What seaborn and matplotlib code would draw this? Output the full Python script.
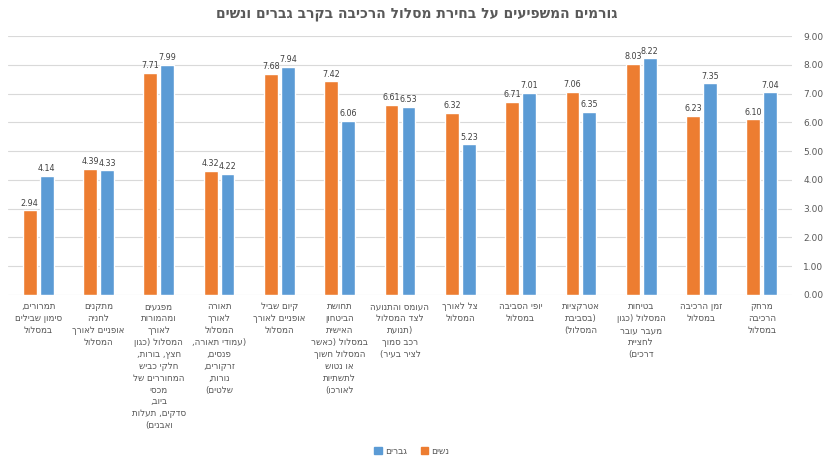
import matplotlib
matplotlib.use("Agg")
import matplotlib.pyplot as plt
import seaborn as sns
import pandas as pd
from matplotlib.patches import Patch

# Categories in reading (right-to-left) order
categories = [
    "מרחק\nהרכיבה\nבמסלול",
    "זמן הרכיבה\nבמסלול",
    "בטיחות\nהמסלול (כגון\nמעבר עובר\nלחציית\nדרכים)",
    "אטרקציות\n(בסביבת\nהמסלול)",
    "יופי הסביבה\nבמסלול",
    "צל לאורך\nהמסלול",
    "העומס והתנועה\nלצד המסלול\n(תנועת\nרכב סמוך\nלציר בעיר)",
    "תחושת\nהביטחון\nהאישית\nבמסלול (כאשר\nהמסלול חשוך\nאו נטוש\nלתשתיות\nלאורכו)",
    "קיום שביל\nאופניים לאורך\nהמסלול",
    "תאורה\nלאורך\nהמסלול\n(עמודי תאורה,\nפנסים,\nזרקורים,\nנורות,\nשלטים)",
    "מפגעים\nומהמורות\nלאורך\nהמסלול (כגון\nחצץ, בורות,\nחלקי כביש\nהמחוררים של\nמכסי\nביוב,\nסדקים, תעלות\nואבנים)",
    "מתקנים\nלחניה\nאופניים לאורך\nהמסלול",
    "תמרורים,\nסימון שבילים\nבמסלול",
]
women = [6.10, 6.23, 8.03, 7.06, 6.71, 6.32, 6.61, 7.42, 7.68, 4.32, 7.71, 4.39, 2.94]
men = [7.04, 7.35, 8.22, 6.35, 7.01, 5.23, 6.53, 6.06, 7.94, 4.22, 7.99, 4.33, 4.14]
women_name = "נשים"
men_name = "גברים"
title = "גורמים המשפיעים על בחירת מסלול הרכיבה בקרב גברים ונשים"
y_ticks = [0, 1, 2, 3, 4, 5, 6, 7, 8, 9]

ORANGE = "#ED7D31"
BLUE = "#5B9BD5"
TEXT = "#595959"


def rtl(text):
    """Lay out Hebrew lines for a left-to-right renderer."""
    mirror = str.maketrans("()", ")(")
    return "\n".join(line[::-1].translate(mirror) for line in text.split("\n"))


cat_disp = [rtl(c) for c in categories]
w_disp, m_disp = rtl(women_name), rtl(men_name)

df = pd.DataFrame({
    "category": cat_disp * 2,
    "series": [w_disp] * len(cat_disp) + [m_disp] * len(cat_disp),
    "value": women + men,
})

sns.set_theme(style="white")
plt.rcParams["font.family"] = ["DejaVu Sans"]

fig = plt.figure(figsize=(8.25, 4.61), dpi=100)
ax = fig.add_axes([8 / 825, 166 / 461, 784 / 825, (425 - 166) / 461])

sns.barplot(
    data=df, x="category", y="value", hue="series",
    order=cat_disp, hue_order=[m_disp, w_disp],
    palette={m_disp: BLUE, w_disp: ORANGE}, saturation=1,
    width=0.56, gap=0.18, ax=ax, legend=False,
)
ax.invert_xaxis()

for cont in ax.containers:
    ax.bar_label(cont, fmt="%.2f", padding=2, fontsize=5.8, color="#404040")

ax.set_ylim(0, 9)
ax.set_yticks(y_ticks)
ax.set_yticklabels([f"{v:.2f}" for v in y_ticks])
ax.yaxis.tick_right()
ax.tick_params(axis="y", length=0, pad=8, labelsize=6.5, labelcolor=TEXT)
ax.tick_params(axis="x", length=0, pad=5, labelsize=6.3, labelcolor=TEXT)
for lbl in ax.get_xticklabels():
    lbl.set_linespacing(1.42)
ax.set_xlabel("")
ax.set_ylabel("")
ax.grid(axis="y", color="#D9D9D9", linewidth=0.8)
ax.set_axisbelow(True)
for s in ax.spines.values():
    s.set_visible(False)

fig.text(417 / 825, 1 - 14 / 461, rtl(title), ha="center", va="center",
         fontsize=10, fontweight="bold", color=TEXT)

fig.legend(
    handles=[Patch(color=BLUE, label=m_disp), Patch(color=ORANGE, label=w_disp)],
    loc="center", bbox_to_anchor=(412 / 825, 1 - 451 / 461), ncol=2,
    frameon=False, fontsize=6.5, handlelength=0.8, handleheight=0.8,
    columnspacing=1.5, handletextpad=0.4, labelcolor=TEXT,
)

fig.savefig("out.png", dpi=100)
